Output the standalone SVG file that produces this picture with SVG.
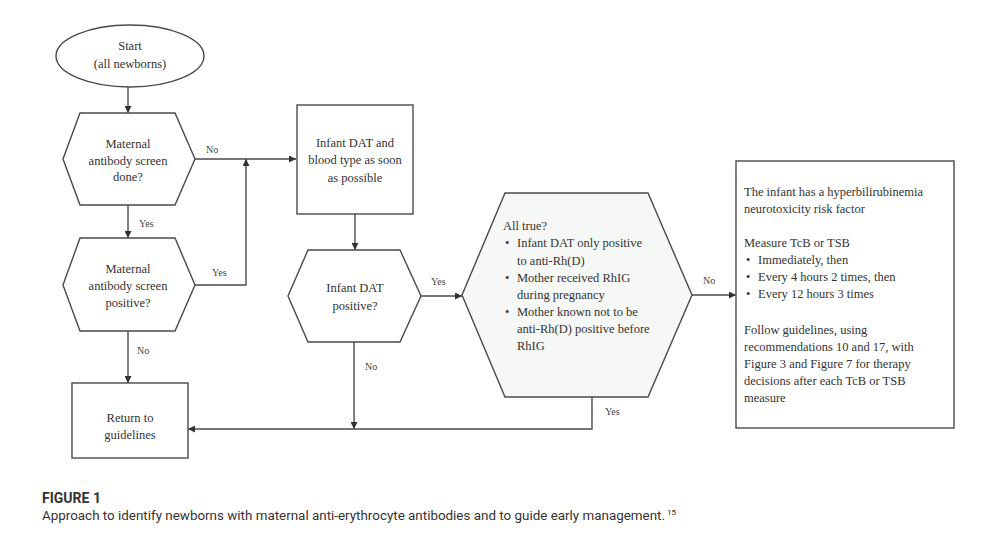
<svg xmlns="http://www.w3.org/2000/svg" width="985" height="542" viewBox="0 0 985 542">
<style>
.shape{fill:#fff;stroke:#4a4a4a;stroke-width:1.4}
.shade{fill:#f6f8f6;stroke:#4a4a4a;stroke-width:1.4}
.t{font-family:"Liberation Serif","Times New Roman",serif;font-size:12.5px;fill:#333}
.c{text-anchor:middle}
.lbl{font-family:"Liberation Serif","Times New Roman",serif;font-size:10px;fill:#444}
.conn{fill:none;stroke:#4a4a4a;stroke-width:1.4}
.cap{font-family:"Liberation Sans Narrow","Roboto","Liberation Sans",sans-serif;fill:#333}
</style>
<defs>
<marker id="ah" viewBox="0 0 10 10" refX="10" refY="5" markerWidth="7" markerHeight="7" markerUnits="userSpaceOnUse" orient="auto">
<path d="M0,0 L10,5 L0,10 z" fill="#333"/>
</marker>
</defs>
<rect width="985" height="542" fill="#fff"/>

<g id="connectors">
<line class="conn" x1="128" y1="87" x2="128" y2="113" marker-end="url(#ah)"/>
<line class="conn" x1="128" y1="205" x2="128" y2="238" marker-end="url(#ah)"/>
<line class="conn" x1="128" y1="331" x2="128" y2="383" marker-end="url(#ah)"/>
<line class="conn" x1="195" y1="159" x2="296" y2="159" marker-end="url(#ah)"/>
<polyline class="conn" points="195,285 246,285 246,159" marker-end="url(#ah)"/>
<line class="conn" x1="355" y1="214" x2="355" y2="250" marker-end="url(#ah)"/>
<line class="conn" x1="354" y1="342" x2="354" y2="429" marker-end="url(#ah)"/>
<line class="conn" x1="421" y1="296" x2="462" y2="296" marker-end="url(#ah)"/>
<polyline class="conn" points="592,397 592,429 188,429" marker-end="url(#ah)"/>
<line class="conn" x1="692" y1="295" x2="736" y2="295" marker-end="url(#ah)"/>
<text class="lbl" x="206" y="153">No</text>
<text class="lbl" x="139" y="227">Yes</text>
<text class="lbl" x="212" y="276">Yes</text>
<text class="lbl" x="137" y="354">No</text>
<text class="lbl" x="365" y="370">No</text>
<text class="lbl" x="431" y="285">Yes</text>
<text class="lbl" x="605" y="415">Yes</text>
<text class="lbl" x="703" y="284">No</text>
</g>

<g id="start">
<ellipse class="shape" cx="130" cy="56" rx="74" ry="31"/>
<text class="t c" x="130" y="50">Start</text>
<text class="t c" x="130" y="68">(all newborns)</text>
</g>

<g id="screen-done">
<polygon class="shape" points="80,113 175,113 195,159 175,205 80,205 63,159"/>
<text class="t c" x="128" y="148">Maternal</text>
<text class="t c" x="128" y="165">antibody screen</text>
<text class="t c" x="128" y="181">done?</text>
</g>

<g id="screen-positive">
<polygon class="shape" points="80,238 175,238 195,285 175,331 80,331 63,285"/>
<text class="t c" x="128" y="273">Maternal</text>
<text class="t c" x="128" y="290">antibody screen</text>
<text class="t c" x="128" y="307">positive?</text>
</g>

<g id="return">
<rect class="shape" x="72" y="383" width="116" height="75"/>
<text class="t c" x="130" y="422">Return to</text>
<text class="t c" x="130" y="439">guidelines</text>
</g>

<g id="dat-blood">
<rect class="shape" x="297" y="105" width="116" height="109"/>
<text class="t c" x="355" y="147">Infant DAT and</text>
<text class="t c" x="355" y="164">blood type as soon</text>
<text class="t c" x="355" y="182">as possible</text>
</g>

<g id="dat-positive">
<polygon class="shape" points="308,250 400,250 421,296 400,342 308,342 288,296"/>
<text class="t c" x="355" y="292">Infant DAT</text>
<text class="t c" x="355" y="310">positive?</text>
</g>

<g id="all-true">
<polygon class="shade" points="505,193 648,193 692,295 648,397 505,397 462,295"/>
<text class="t" x="503" y="230">All true?</text>
<text class="t" x="505" y="247">•</text>
<text class="t" x="517" y="247">Infant DAT only positive</text>
<text class="t" x="517" y="265">to anti-Rh(D)</text>
<text class="t" x="505" y="282">•</text>
<text class="t" x="517" y="282">Mother received RhIG</text>
<text class="t" x="517" y="299">during pregnancy</text>
<text class="t" x="505" y="316">•</text>
<text class="t" x="517" y="316">Mother known not to be</text>
<text class="t" x="517" y="333">anti-Rh(D) positive before</text>
<text class="t" x="517" y="350">RhIG</text>
</g>

<g id="risk-factor">
<rect class="shape" x="736" y="161" width="218" height="267"/>
<text class="t" x="744" y="196">The infant has a hyperbilirubinemia</text>
<text class="t" x="744" y="213">neurotoxicity risk factor</text>
<text class="t" x="744" y="247">Measure TcB or TSB</text>
<text class="t" x="746" y="264">•</text>
<text class="t" x="758" y="264">Immediately, then</text>
<text class="t" x="746" y="281">•</text>
<text class="t" x="758" y="281">Every 4 hours 2 times, then</text>
<text class="t" x="746" y="298">•</text>
<text class="t" x="758" y="298">Every 12 hours 3 times</text>
<text class="t" x="744" y="334">Follow guidelines, using</text>
<text class="t" x="744" y="351">recommendations 10 and 17, with</text>
<text class="t" x="744" y="368">Figure 3 and Figure 7 for therapy</text>
<text class="t" x="744" y="385">decisions after each TcB or TSB</text>
<text class="t" x="744" y="402">measure</text>
</g>

<g id="caption">
<text class="cap" x="42" y="503" font-size="15" font-weight="bold" fill="#444" textLength="59" lengthAdjust="spacingAndGlyphs">FIGURE 1</text>
<text class="cap" x="42" y="520" font-size="12.5" textLength="623" lengthAdjust="spacingAndGlyphs">Approach to identify newborns with maternal anti-erythrocyte antibodies and to guide early management.</text>
<text class="cap" x="667" y="515" font-size="7.5" textLength="9" lengthAdjust="spacingAndGlyphs">15</text>
</g>
</svg>
